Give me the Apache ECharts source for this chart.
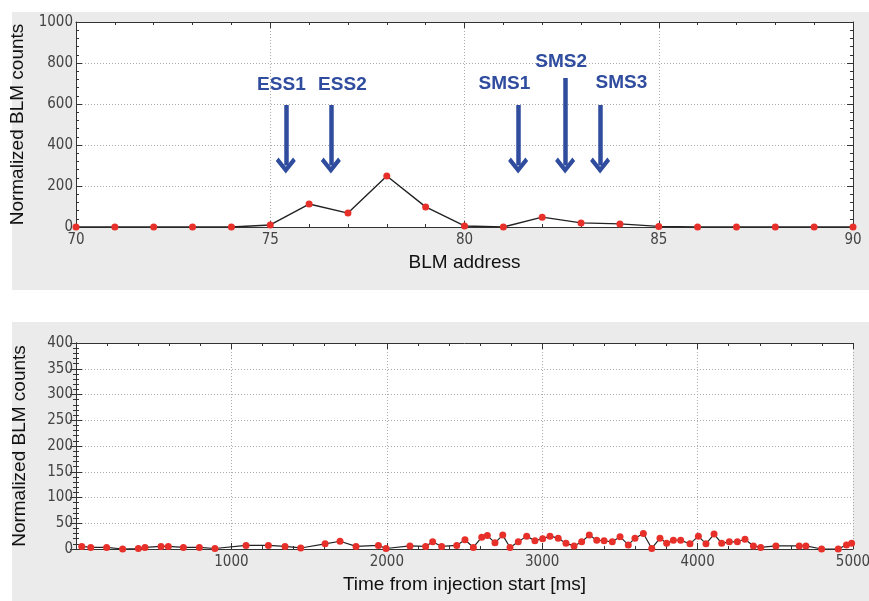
<!DOCTYPE html>
<html><head><meta charset="utf-8">
<script src="https://cdn.jsdelivr.net/npm/echarts@6/dist/echarts.min.js"></script>
<style>html,body{margin:0;padding:0;background:#fff}#c{width:869px;height:601px}</style>
</head><body><div id="c"></div>
<script>
// Top panel: BLM address vs counts
var blmAddress = [70,71,72,73,74,75,76,77,78,79,80,81,82,83,84,85,86,87,88,89,90];
var blmCounts  = [0,0,0,0,0,10,112,68,249,98,5,0,48,20,15,3,0,0,0,0,0];

// Annotations (arrow x, arrow top y, arrow end y) and labels (x, y, text)
var arrowX    = [75.4, 76.56, 81.38, 82.59, 83.49];
var arrowTop  = [595, 595, 595, 727, 595];
var arrowBot  = [300, 300, 300, 300, 300];
var labelX    = [75.3, 76.87, 81.04, 82.5, 84.05];
var labelY    = [693, 693, 698, 805, 702];
var labelText = ['ESS1','ESS2','SMS1','SMS2','SMS3'];

// Bottom panel: time vs counts
var timeMs = [37,95,197,300,401,444,547,594,691,794,894,1094,1238,1345,1446,1603,1699,1802,1946,1995,
  2149,2250,2295,2353,2450,2503,2557,2611,2647,2696,2746,2793,2846,2900,2953,3003,3050,3103,3153,3205,
  3254,3303,3351,3398,3451,3501,3554,3597,3651,3705,3758,3801,3844,3891,3951,4005,4054,4106,4155,4204,
  4256,4305,4359,4406,4504,4654,4697,4798,4905,4958,4991];
var timeCounts = [5,3,3,0,1,3,5,5,3,3,1,7,7,5,2,10,15,5,7,1,
  6,5,14,5,7,18,3,23,26,12,27,3,14,25,16,20,25,21,11,6,
  14,27,17,16,14,24,8,21,30,1,21,11,17,17,10,25,10,29,11,14,
  14,19,6,3,6,6,6,0,0,8,11];

var FONT = "'Liberation Sans Narrow','DejaVu Sans Condensed','Liberation Sans',Arial,sans-serif";
var lblColor = '#444';
var chart = echarts.init(document.getElementById('c'));

function mkX(gi, min, max, interval, pos, show, name, fmt) {
  return {
    type:'value', gridIndex:gi, min:min, max:max, interval:interval, position:pos,
    name: show ? name : '', nameLocation:'middle', nameGap:26,
    nameTextStyle:{fontSize:19, color:'#111', fontFamily:'Liberation Sans, Arial, sans-serif'},
    axisLine:{show:true, onZero:false, lineStyle:{color:'#333', width:1}},
    axisTick:{show:true, inside:true, length:6, lineStyle:{color:'#333'}},
    minorTick:{show:true, splitNumber:5, length:3, lineStyle:{color:'#333'}},
    axisLabel:{show:show, fontSize:15, color:lblColor, fontFamily:FONT, margin:6, formatter:fmt || function(v){return String(v);}},
    splitLine:{show:show, lineStyle:{color:'#aaaaaa', type:[1,2], width:1}}
  };
}
function mkY(gi, min, max, interval, pos, show, minorSplit) {
  return {
    type:'value', gridIndex:gi, min:min, max:max, interval:interval, position:pos,
    name: show ? 'Normalized BLM counts' : '', nameLocation:'middle', nameGap:47,
    nameTextStyle:{fontSize:19, color:'#111', fontFamily:'Liberation Sans, Arial, sans-serif'},
    axisLine:{show:true, lineStyle:{color:'#333', width:1}},
    axisTick:{show:true, inside:true, length:6, lineStyle:{color:'#333'}},
    minorTick:{show:true, splitNumber:minorSplit, length:3, lineStyle:{color:'#333'}},
    axisLabel:{show:show, fontSize:15, color:lblColor, fontFamily:FONT, margin:3, formatter:function(v){return String(v);}},
    splitLine:{show:show, lineStyle:{color:'#aaaaaa', type:[1,2], width:1}}
  };
}

var topData = blmAddress.map(function(a,i){return [a, blmCounts[i]];});
var botData = timeMs.map(function(t,i){return [t, timeCounts[i]];});
var arrowLines = arrowX.map(function(x,i){
  return [{coord:[x, arrowTop[i]]},{coord:[x, arrowBot[i]]}];
});
var labelData = labelX.map(function(x,i){return {value:[x, labelY[i]], name:labelText[i]};});
var chevron = 'path://M0,0 L11,11 L8,14 L0,6 L-8,14 L-11,11 Z';

chart.setOption({
  animation:false,
  backgroundColor:'#ffffff',
  graphic:[
    {type:'rect', z:-10, shape:{x:12,y:12,width:857,height:278}, style:{fill:'#ebebeb'}},
    {type:'rect', z:-10, shape:{x:12,y:322,width:857,height:279}, style:{fill:'#ebebeb'}}
  ],
  grid:[
    {left:76, top:22, width:777, height:205, show:true, backgroundColor:'#fff', borderWidth:0, outerBoundsMode:'none', containLabel:false},
    {left:76, top:343, width:777, height:206, show:true, backgroundColor:'#fff', borderWidth:0, outerBoundsMode:'none', containLabel:false}
  ],
  xAxis:[
    mkX(0,70,90,5,'bottom',true,'BLM address'),
    mkX(0,70,90,5,'top',false,''),
    mkX(1,0,5000,1000,'bottom',true,'Time from injection start [ms]', function(v){return v===0?'':String(v);}),
    mkX(1,0,5000,1000,'top',false,'')
  ],
  yAxis:[
    mkY(0,0,1000,200,'left',true,5),
    mkY(0,0,1000,200,'right',false,5),
    mkY(1,0,400,50,'left',true,5),
    mkY(1,0,400,50,'right',false,5)
  ],
  series:[
    {type:'line', xAxisIndex:0, yAxisIndex:0, data:topData, symbol:'circle', symbolSize:7,
     lineStyle:{color:'#222', width:1.4}, itemStyle:{color:'#e8302a'}, z:5,
     markLine:{silent:true, symbol:['none', chevron], symbolSize:[20,16], symbolKeepAspect:false, label:{show:false},
       lineStyle:{color:'#2f4c9e', width:4.5, type:'solid'}, itemStyle:{color:'#2f4c9e'}, data:arrowLines}},
    {type:'scatter', xAxisIndex:0, yAxisIndex:0, data:labelData, symbolSize:1, silent:true,
     itemStyle:{opacity:0}, z:6,
     label:{show:true, position:[0,0], align:'center', verticalAlign:'middle', formatter:'{b}', fontSize:19, fontWeight:'bold',
       color:'#2f4c9e', textBorderWidth:0, opacity:1, fontFamily:'Liberation Sans, Arial, sans-serif'}},
    {type:'line', xAxisIndex:2, yAxisIndex:2, data:botData, symbol:'circle', symbolSize:7,
     lineStyle:{color:'#222', width:1.2}, itemStyle:{color:'#e8302a'}, z:5}
  ]
});
</script></body></html>
